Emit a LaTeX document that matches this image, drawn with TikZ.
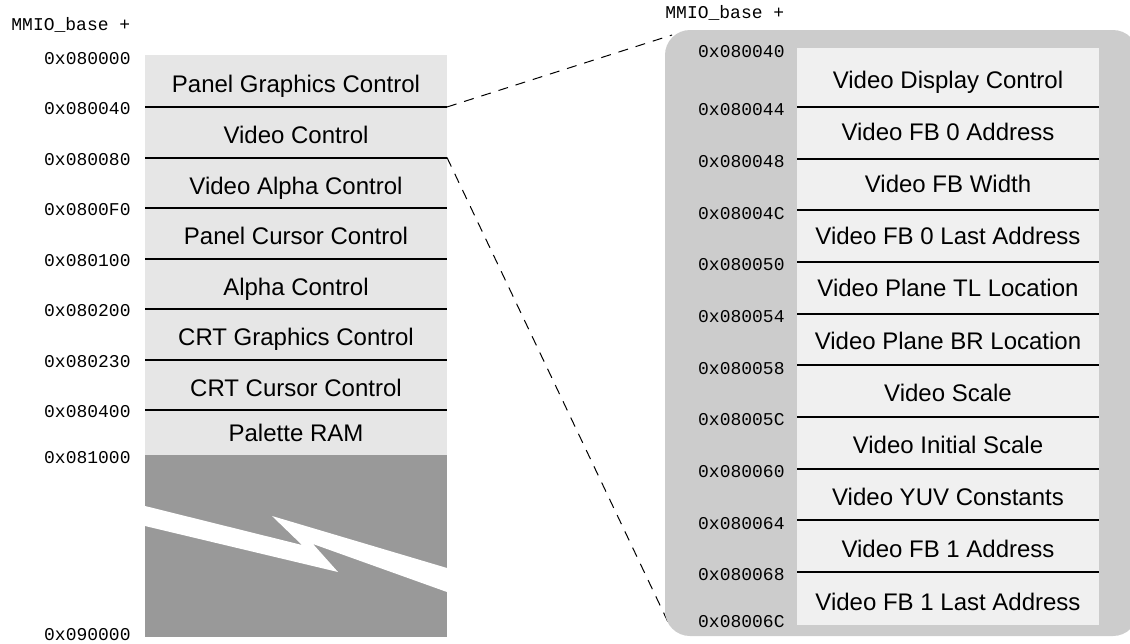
\documentclass[tikz,border=0pt]{standalone}
\usepackage{fontspec}
\setmainfont{Liberation Sans}
\setmonofont{Liberation Mono}
\definecolor{rowgray}{HTML}{E6E6E6}
\definecolor{breakgray}{HTML}{999999}
\definecolor{panelgray}{HTML}{CCCCCC}
\definecolor{cellgray}{HTML}{F0F0F0}
\begin{document}
\begin{tikzpicture}[x=0.5pt,y=0.5pt]
\tikzstyle{every node}+=[inner sep=0pt]
\tikzstyle{reg}=[font=\fontsize{12}{14}\selectfont, anchor=base]
\tikzstyle{addr}=[font=\fontsize{9}{11}\selectfont\ttfamily, anchor=east]
\tikzstyle{sep}=[black, line width=1pt]
\tikzstyle{zoomline}=[black, line width=0.5pt, dash pattern=on 5pt off 4pt]
\useasboundingbox (0,0) rectangle (1130,-643);

% left memory map
\fill [rowgray] (145,-55) rectangle (447,-455);
\fill [breakgray] (145,-455) rectangle (447,-637);
\fill [white] (145,-506) -- (302,-545) -- (272,-516) -- (447,-568) -- (447,-592) -- (313,-544) -- (338,-572) -- (145,-526) -- cycle;
\draw [sep] (145,-107) -- (447,-107);
\draw [sep] (145,-157.5) -- (447,-157.5);
\draw [sep] (145,-208) -- (447,-208);
\draw [sep] (145,-258.5) -- (447,-258.5);
\draw [sep] (145,-309) -- (447,-309);
\draw [sep] (145,-359.5) -- (447,-359.5);
\draw [sep] (145,-410) -- (447,-410);
\coordinate (vctop) at (447,-107);
\coordinate (vcbot) at (447,-157.5);

\node [addr, anchor=west] (lbase) at (11,-25) {MMIO\_base +};
\node [addr] (la0) at (131,-59) {0x080000};
\node [addr] (la1) at (131,-109) {0x080040};
\node [addr] (la2) at (131,-159.5) {0x080080};
\node [addr] (la3) at (131,-210) {0x0800F0};
\node [addr] (la4) at (131,-260.5) {0x080100};
\node [addr] (la5) at (131,-311) {0x080200};
\node [addr] (la6) at (131,-361.5) {0x080230};
\node [addr] (la7) at (131,-412) {0x080400};
\node [addr] (la8) at (131,-458) {0x081000};
\node [addr] (la9) at (131,-635) {0x090000};

\node [reg] (pgc) at (296,-92) {Panel Graphics Control};
\node [reg] (vc) at (296,-143) {Video Control};
\node [reg] (vac) at (296,-194) {Video Alpha Control};
\node [reg] (pcc) at (296,-244) {Panel Cursor Control};
\node [reg] (ac) at (296,-295) {Alpha Control};
\node [reg] (cgc) at (296,-345) {CRT Graphics Control};
\node [reg] (ccc) at (296,-396) {CRT Cursor Control};
\node [reg] (pram) at (296,-441) {Palette RAM};

% zoom of the video control block
\coordinate (maptl) at (672,-35);
\coordinate (mapbl) at (668,-622);
\draw [zoomline] (vctop) -- (maptl);
\draw [zoomline] (vcbot) -- (mapbl);
\fill [panelgray, rounded corners=12.5pt] (665,-30) rectangle (1138,-636);
\fill [cellgray] (797,-48) rectangle (1099,-625);
\draw [sep] (797,-107) -- (1099,-107);
\draw [sep] (797,-158.7) -- (1099,-158.7);
\draw [sep] (797,-210.3) -- (1099,-210.3);
\draw [sep] (797,-262) -- (1099,-262);
\draw [sep] (797,-313.7) -- (1099,-313.7);
\draw [sep] (797,-365.3) -- (1099,-365.3);
\draw [sep] (797,-417) -- (1099,-417);
\draw [sep] (797,-468.7) -- (1099,-468.7);
\draw [sep] (797,-520.3) -- (1099,-520.3);
\draw [sep] (797,-572) -- (1099,-572);

\node [addr, anchor=west] (rbase) at (665,-13) {MMIO\_base +};
\node [addr] (ra0) at (785,-52) {0x080040};
\node [addr] (ra1) at (785,-110) {0x080044};
\node [addr] (ra2) at (785,-161.7) {0x080048};
\node [addr] (ra3) at (785,-213.3) {0x08004C};
\node [addr] (ra4) at (785,-265) {0x080050};
\node [addr] (ra5) at (785,-316.7) {0x080054};
\node [addr] (ra6) at (785,-368.3) {0x080058};
\node [addr] (ra7) at (785,-420) {0x08005C};
\node [addr] (ra8) at (785,-471.7) {0x080060};
\node [addr] (ra9) at (785,-523.3) {0x080064};
\node [addr] (ra10) at (785,-575) {0x080068};
\node [addr] (ra11) at (785,-622) {0x08006C};

\node [reg] (vdc) at (948,-88) {Video Display Control};
\node [reg] (fb0) at (948,-140.2) {Video FB 0 Address};
\node [reg] (fbw) at (948,-192.4) {Video FB Width};
\node [reg] (fb0l) at (948,-244.6) {Video FB 0 Last Address};
\node [reg] (ptl) at (948,-296.8) {Video Plane TL Location};
\node [reg] (pbr) at (948,-349) {Video Plane BR Location};
\node [reg] (vs) at (948,-401.2) {Video Scale};
\node [reg] (vis) at (948,-453.4) {Video Initial Scale};
\node [reg] (yuv) at (948,-505.6) {Video YUV Constants};
\node [reg] (fb1) at (948,-557.8) {Video FB 1 Address};
\node [reg] (fb1l) at (948,-610) {Video FB 1 Last Address};
\end{tikzpicture}
\end{document}
